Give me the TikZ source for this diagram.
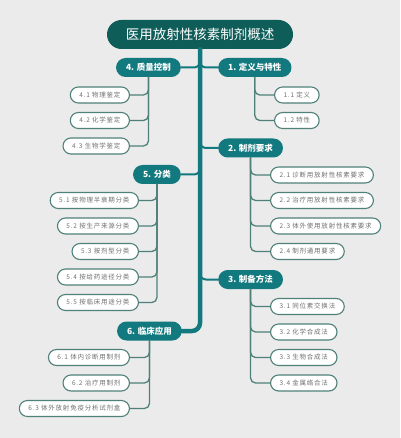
\documentclass[tikz,border=0pt]{standalone}
\usepackage{fontspec}
\setmainfont{Noto Sans CJK SC}
\newfontfamily\leaffont[LetterSpace=12]{Noto Sans CJK SC}
\usepackage{tikz}
\definecolor{bgc}{HTML}{EBEBEB}
\definecolor{rootc}{HTML}{0E5D59}
\definecolor{topicc}{HTML}{12797F}
\definecolor{twigc}{HTML}{4F8079}
\definecolor{leaftext}{HTML}{707070}

\begin{document}
\begin{tikzpicture}[x=1pt, y=-1pt,
                    line cap=round, line join=round,
                    root/.style={rounded corners=14.5pt, fill=rootc, text=white,
                                 minimum height=29pt, minimum width=186pt,
                                 font=\fontsize{13.5}{15}\selectfont},
                    topic/.style={rounded corners=9.5pt, fill=topicc, text=white,
                                  minimum height=19pt, inner xsep=10pt,
                                  font=\fontsize{8.5}{10}\selectfont\bfseries},
                    leaf/.style={rounded corners=8pt, draw=twigc, line width=1.1pt,
                                 fill=white, text=leaftext, minimum height=16pt,
                                 inner xsep=9pt, font=\leaffont\fontsize{6.5}{8}\selectfont},
                    trunk/.style={topicc, line width=4.5pt, rounded corners=8pt},
                    branch/.style={topicc, line width=2pt, rounded corners=6pt},
                    twig/.style={twigc, line width=1.3pt, rounded corners=5pt}]
  \fill[bgc] (0,0) rectangle (400,438);
  \useasboundingbox (0,0) rectangle (400,438);
  \def\dy{25.5}

  % root and main topics
  \node[root] (root) at (200,34.5) {医用放射性核素制剂概述};
  \node[topic, anchor=west] (t1) at (218,67.5) {1. 定义与特性};
  \node[topic, anchor=west] (t2) at (218,148) {2. 制剂要求};
  \node[topic, anchor=west] (t3) at (218,279.5) {3. 制备方法};
  \node[topic, anchor=east] (t4) at (181,67.5) {4. 质量控制};
  \node[topic, anchor=east] (t5) at (181,174.5) {5. 分类};
  \node[topic, anchor=east] (t6) at (182,331) {6. 临床应用};

  % trunk and branches
  \draw[trunk] (root.south) |- (t6.east);
  \coordinate (j1) at (200,60);
  \coordinate (j2) at (200,140);
  \coordinate (j3) at (200,271);
  \coordinate (j4) at (200,60);
  \coordinate (j5) at (200,167);
  \foreach \k in {1,2,3}{
    \draw[branch] (j\k) |- (t\k.west);
  }
  \foreach \k in {4,5}{
    \draw[branch] (j\k) |- (t\k.east);
  }

  % right leaves
  \foreach \txt [count=\i] in {1.1 定义, 1.2 特性}{
    \node[leaf, anchor=west] (l1-\i) at (274,{95+\dy*(\i-1)}) {\txt};
    \draw[twig] (t1.south) |- (l1-\i.west);
  }
  \foreach \txt [count=\i] in {2.1 诊断用放射性核素要求, 2.2 治疗用放射性核素要求,
                               2.3 体外使用放射性核素要求, 2.4 制剂通用要求}{
    \node[leaf, anchor=west] (l2-\i) at (270,{175+\dy*(\i-1)}) {\txt};
    \draw[twig] (t2.south) |- (l2-\i.west);
  }
  \foreach \txt [count=\i] in {3.1 同位素交换法, 3.2 化学合成法,
                               3.3 生物合成法, 3.4 金属络合法}{
    \node[leaf, anchor=west] (l3-\i) at (270,{306.5+\dy*(\i-1)}) {\txt};
    \draw[twig] (t3.south) |- (l3-\i.west);
  }

  % left leaves
  \foreach \txt [count=\i] in {4.1 物理鉴定, 4.2 化学鉴定, 4.3 生物学鉴定}{
    \node[leaf, anchor=east] (l4-\i) at (130,{95+\dy*(\i-1)}) {\txt};
    \draw[twig] (t4.south) |- (l4-\i.east);
  }
  \foreach \txt [count=\i] in {5.1 按物理半衰期分类, 5.2 按生产来源分类, 5.3 按剂型分类,
                               5.4 按给药途径分类, 5.5 按临床用途分类}{
    \node[leaf, anchor=east] (l5-\i) at (139,{200.5+\dy*(\i-1)}) {\txt};
    \draw[twig] (t5.south) |- (l5-\i.east);
  }
  \foreach \txt [count=\i] in {6.1 体内诊断用制剂, 6.2 治疗用制剂,
                               6.3 体外放射免疫分析试剂盒}{
    \node[leaf, anchor=east] (l6-\i) at (130,{357.5+\dy*(\i-1)}) {\txt};
    \draw[twig] (t6.south) |- (l6-\i.east);
  }
\end{tikzpicture}
\end{document}
